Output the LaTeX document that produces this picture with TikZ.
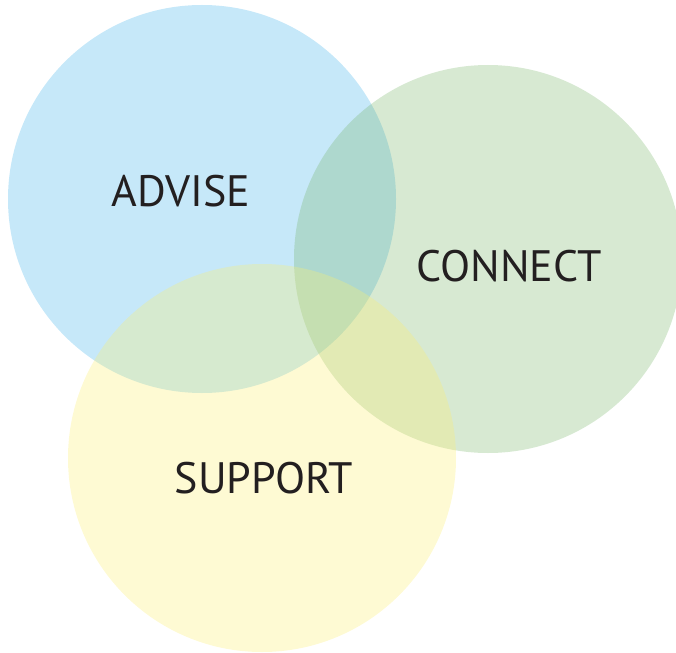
\documentclass[tikz,border=0pt]{standalone}
\usepackage{fontspec}
\setmainfont{PT Sans}
\usetikzlibrary{positioning}

\definecolor{adviseblue}{RGB}{120,200,240}
\definecolor{connectgreen}{RGB}{110,175,95}
\definecolor{supportyellow}{RGB}{252,238,110}
\definecolor{labelink}{RGB}{35,31,32}

\begin{document}
\begin{tikzpicture}[
    x=1pt, y=-1pt,
    ring/.style={circle, minimum size=388pt, inner sep=0pt, draw=none},
    word/.style={text=labelink, font=\fontsize{44}{50}\selectfont, inner sep=0pt}
  ]
  \useasboundingbox (0,0) rectangle (676,652);

  % the three circles
  \node[ring, fill=adviseblue, fill opacity=0.42] (advise) at (202,199) {};
  \node[ring, fill=connectgreen, fill opacity=0.28] (connect) at (488,259) {};
  \node[ring, fill=supportyellow, fill opacity=0.3] (support) at (262,458) {};

  % labels
  \node[word] (advisetext) at (181,191) {ADVISE};
  \node[word] (connecttext) at (509,266) {CONNECT};
  \node[word] (supporttext) at (264,478) {SUPPORT};
\end{tikzpicture}
\end{document}
